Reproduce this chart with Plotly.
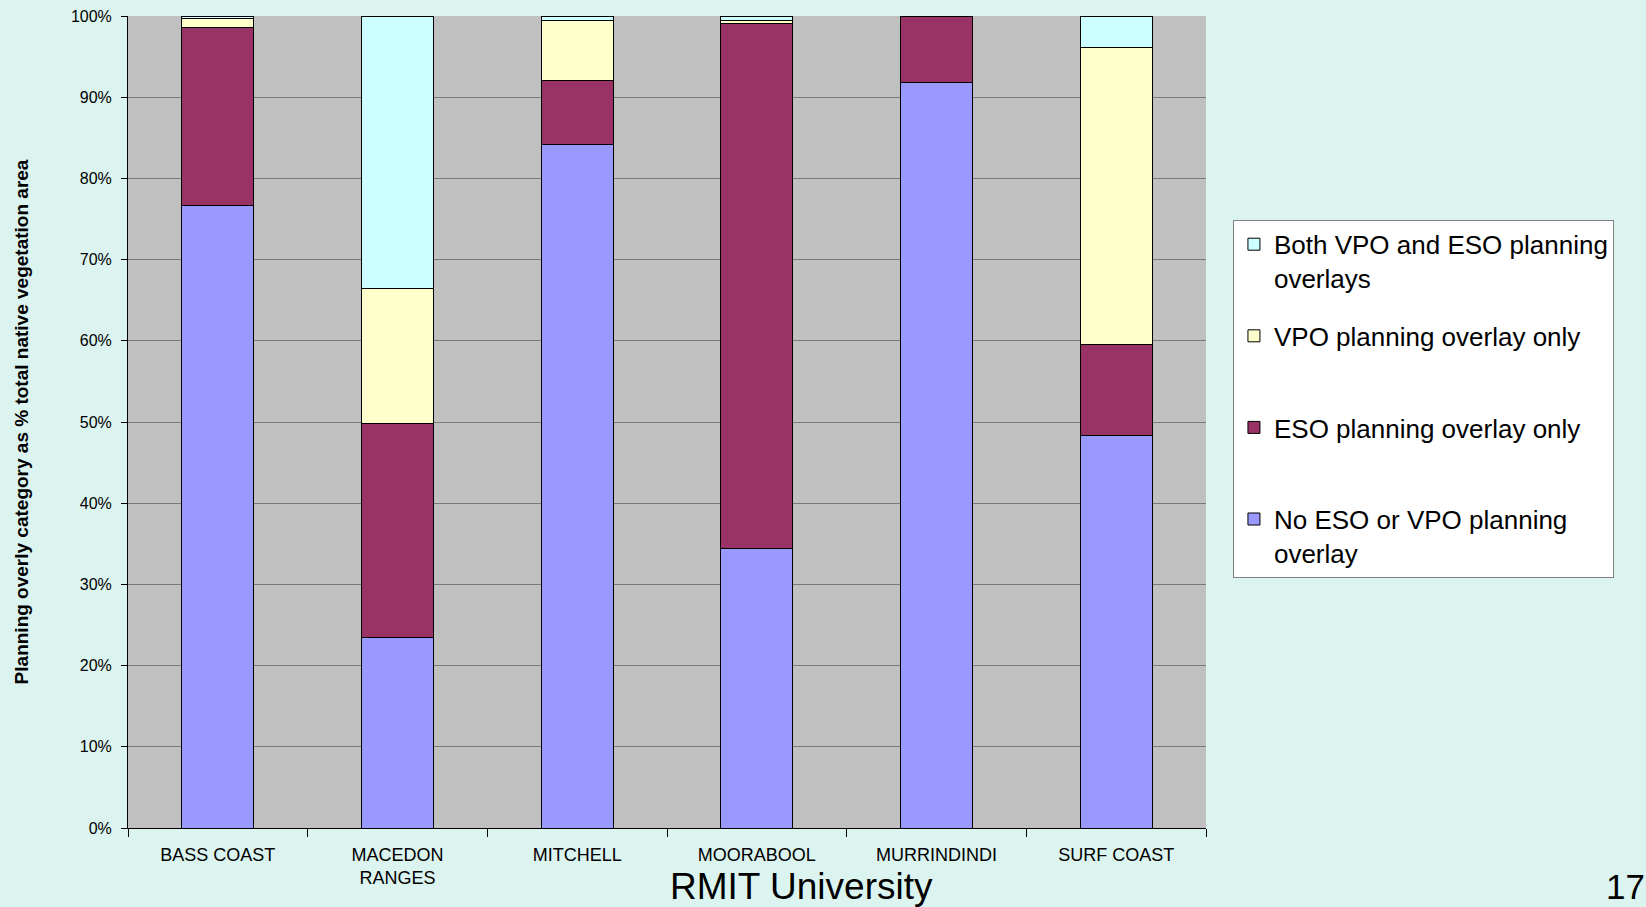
import plotly.graph_objects as go

# Share of native vegetation area by planning overlay category, per shire (%)
shires = ["BASS COAST", "MACEDON<br>RANGES", "MITCHELL", "MOORABOOL", "MURRINDINDI", "SURF COAST"]
no_overlay = [76.7, 23.4, 84.2, 34.4, 91.85, 48.3]
eso_only = [21.9, 26.4, 7.9, 64.7, 8.15, 11.2]
vpo_only = [1.1, 16.6, 7.4, 0.4, 0.0, 36.6]
both_overlays = [0.3, 33.6, 0.5, 0.5, 0.0, 3.9]

# stacking order bottom -> top; legend lists them top -> bottom
series = [
    ("No ESO or VPO planning<br>overlay", no_overlay, "#9999FF"),
    ("ESO planning overlay only<br> ", eso_only, "#993366"),
    ("VPO planning overlay only<br> ", vpo_only, "#FFFFCC"),
    ("Both VPO and ESO planning<br>overlays", both_overlays, "#CCFFFF"),
]

fig = go.Figure()
for i, (name, vals, color) in enumerate(series):
    fig.add_trace(go.Bar(
        x=shires, y=vals, name=name, legendgroup=f"g{i}",
        legendrank=len(series) - i,
        marker=dict(color=color, line=dict(color="black", width=1)),
        width=0.4,
    ))

bg = "#DCF4F0"
fig.update_layout(
    width=1646, height=907,
    barmode="stack",
    paper_bgcolor=bg,
    plot_bgcolor="#C0C0C0",
    margin=dict(l=128, r=440, t=16, b=79, autoexpand=False),
    font=dict(family="Liberation Sans, Arial, sans-serif", color="black"),
    showlegend=True,
    legend=dict(
        x=1.025, y=0.749, xanchor="left", yanchor="top",
        traceorder="grouped", tracegroupgap=21, valign="top",
        bgcolor="white", bordercolor="#808080", borderwidth=1,
        font=dict(size=26, family="Liberation Sans, Arial, sans-serif"),
    ),
    xaxis=dict(
        tickson="boundaries", ticks="outside", ticklen=8, tickcolor="black",
        showline=True, linecolor="black", linewidth=1,
        tickfont=dict(size=18, family="Liberation Sans, Arial"),
        ticklabelstandoff=10,
        showgrid=False,
    ),
    yaxis=dict(
        range=[0, 100], dtick=10, ticksuffix="%",
        ticks="outside", ticklen=6, tickcolor="black",
        showline=True, linecolor="black", linewidth=1,
        gridcolor="#7a7a7a", gridwidth=1,
        tickfont=dict(size=16, family="Liberation Sans, Arial"),
        ticklabelstandoff=6,
        zeroline=False,
        title=dict(text="<b>Planning overly category as % total native vegetation area</b>",
                   font=dict(size=19, family="Liberation Sans, Arial"),
                   standoff=37),
    ),
    annotations=[
        dict(text="RMIT University", xref="paper", yref="paper", x=0.625, y=-0.072,
             xanchor="center", yanchor="middle", showarrow=False,
             font=dict(size=37, family="Liberation Sans, Arial")),
        dict(text="17", xref="paper", yref="paper", x=1.389, y=-0.072,
             xanchor="center", yanchor="middle", showarrow=False,
             font=dict(size=35, family="Liberation Sans, Arial")),
    ],
)

fig.write_html("out.html")
